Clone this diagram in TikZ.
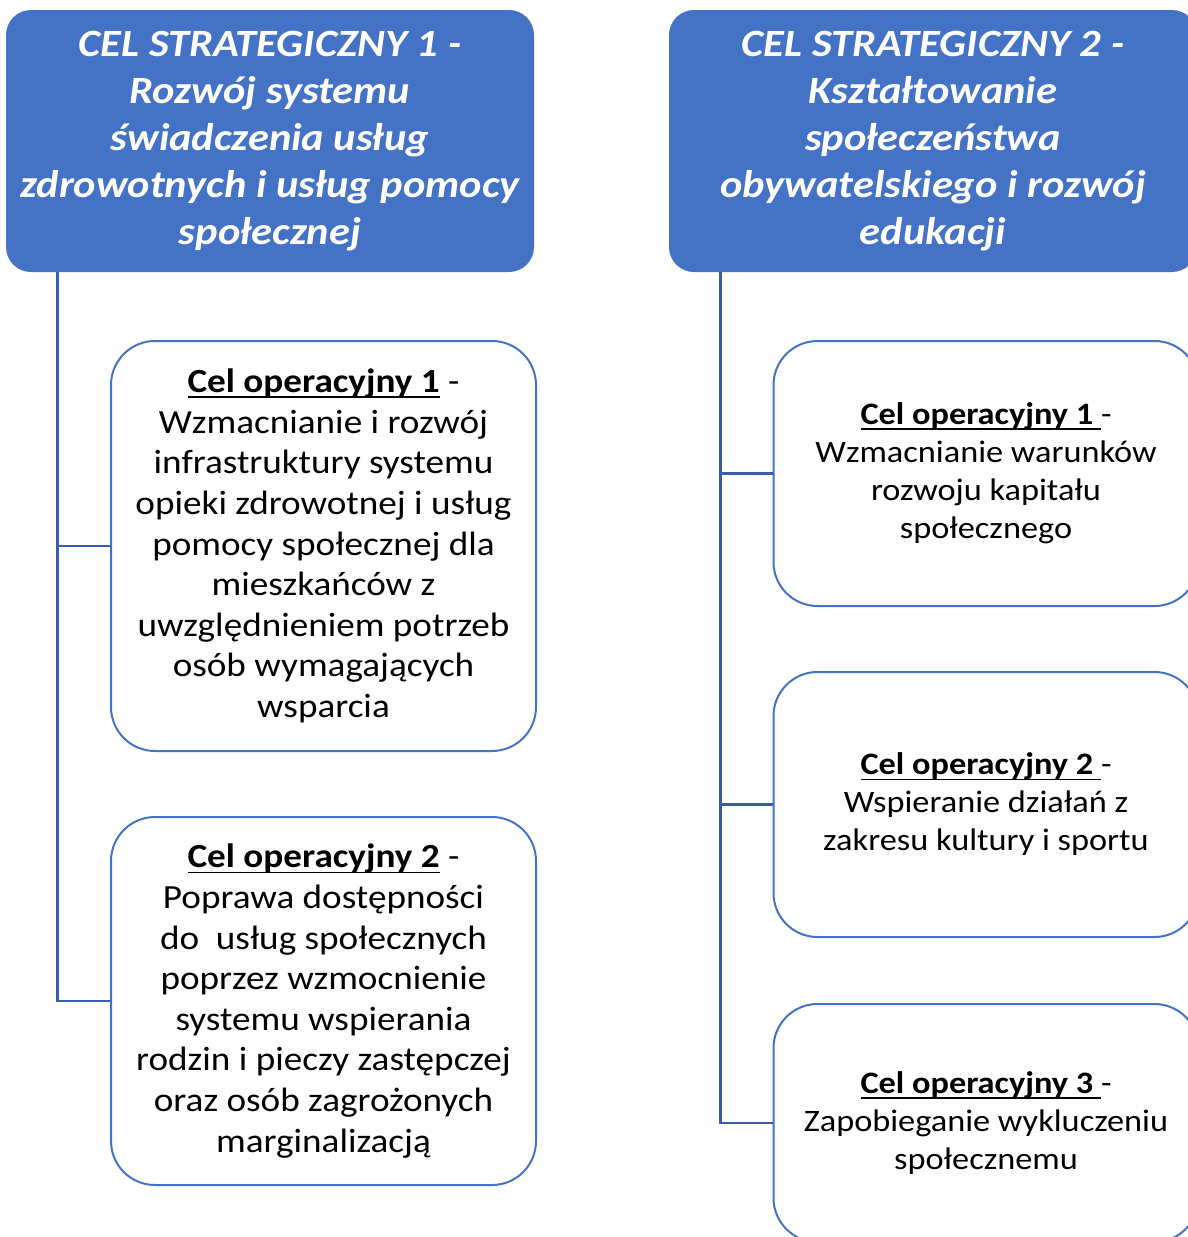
\documentclass[tikz,border=0pt]{standalone}
\usepackage{fontspec}
\setmainfont{Carlito}[FakeStretch=1.1]
\usetikzlibrary{calc}
\definecolor{niebieski}{HTML}{4472C4}
\definecolor{ciemny}{HTML}{3A5DA8}
\newcommand{\celop}[1]{\setbox0\hbox{\textbf{#1}}\rlap{\rule[-2.6pt]{\wd0}{0.75pt}}\box0\relax}

\begin{document}
\begin{tikzpicture}[x=0.5pt,y=-0.5pt,
  strat/.style={fill=niebieski, rounded corners=12.5pt, minimum width=264pt,
    minimum height=131pt, inner sep=0pt, align=center, text=white,
    font=\fontsize{19.3}{23.5}\selectfont\bfseries\itshape},
  oper/.style={draw=niebieski, line width=1pt, rounded corners=22pt,
    minimum width=212.5pt, inner sep=0pt, align=center, fill=white},
  lewy/.style={font=\fontsize{16.9}{20.3}\selectfont},
  prawy/.style={font=\fontsize{15.6}{19}\selectfont},
  galaz/.style={draw=ciemny, line width=1.2pt}]
  \useasboundingbox (0,0) rectangle (1188,1237);
  \clip (0,0) rectangle (1188,1237);

  % Cele strategiczne
  \node [strat] (cs1) at (270,141) {CEL STRATEGICZNY 1 -\\ Rozwój systemu\\
    świadczenia usług\\ zdrowotnych i usług pomocy\\ społecznej};
  \node [strat] (cs2) at (933,141) {CEL STRATEGICZNY 2 -\\ Kształtowanie\\
    społeczeństwa\\ obywatelskiego i rozwój\\ edukacji};

  % Cele operacyjne
  \node [oper, lewy, minimum height=205pt] (co11) at (323.5,546)
    {\celop{Cel operacyjny 1} -\\ Wzmacnianie i rozwój\\ infrastruktury systemu\\
    opieki zdrowotnej i usług\\ pomocy społecznej dla\\ mieszkańców z\\
    uwzględnieniem potrzeb\\ osób wymagających\\ wsparcia};
  \node [oper, lewy, minimum height=184pt] (co12) at (323.5,1001)
    {\celop{Cel operacyjny 2} -\\ Poprawa dostępności\\ do\ \ usług społecznych\\
    poprzez wzmocnienie\\ systemu wspierania\\ rodzin i pieczy zastępczej\\
    oraz osób zagrożonych\\ marginalizacją};

  \node [oper, prawy, minimum height=132.5pt] (co21) at (986,473.5)
    {\celop{Cel operacyjny 1\ }-\\ Wzmacnianie warunków\\ rozwoju kapitału\\ społecznego};
  \node [oper, prawy, minimum height=132.5pt] (co22) at (986,804.5)
    {\celop{Cel operacyjny 2\ }-\\ Wspieranie działań z\\ zakresu kultury i sportu};
  \node [oper, prawy, minimum height=119pt] (co23) at (986,1123)
    {\celop{Cel operacyjny 3\ }-\\ Zapobieganie wykluczeniu\\ społecznemu};

  % Połączenia
  \coordinate (pien1) at ($(cs1.south west)+(52,0)$);
  \coordinate (pien2) at ($(cs2.south west)+(52,0)$);
  \draw [galaz] (pien1) |- (co11.west);
  \draw [galaz] (pien1) |- (co12.west);
  \draw [galaz] (pien2) |- (co21.west);
  \draw [galaz] (pien2) |- (co22.west);
  \draw [galaz] (pien2) |- (co23.west);
\end{tikzpicture}
\end{document}
